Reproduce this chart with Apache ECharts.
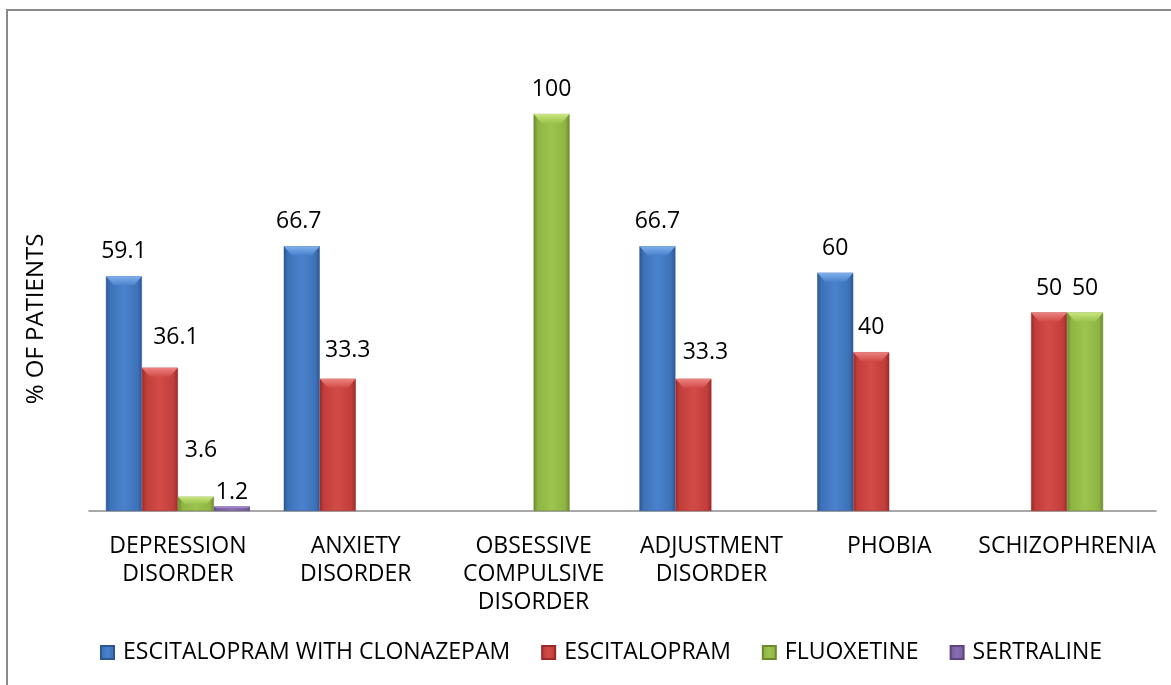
<!DOCTYPE html>
<html>
<head>
<meta charset="utf-8">
<script src="https://cdn.jsdelivr.net/npm/echarts@6/dist/echarts.min.js"></script>
<style>
  html, body { margin: 0; padding: 0; background: #fff; }
  #chart { width: 1171px; height: 685px; }
</style>
</head>
<body>
<div id="chart"></div>
<script>
// data
const categories = ['DEPRESSION\nDISORDER', 'ANXIETY\nDISORDER', 'OBSESSIVE\nCOMPULSIVE\nDISORDER', 'ADJUSTMENT\nDISORDER', 'PHOBIA', 'SCHIZOPHRENIA']
const escWithClonazepam = [59.1, 66.7, null, 66.7, 60, null]
const escitalopram = [36.1, 33.3, null, 33.3, 40, 50]
const fluoxetine = [3.6, null, 100, null, null, 50]
const sertraline = [1.2, null, null, null, null, null]

const FONT = 'Open Sans'
const BAR_W = 36

// hand-moved labels in the original: [dx, dy] per category index
const labelShift = {
  0: { 1: [-3, 0] },
  1: { 0: [16, -6], 1: [10, -4], 3: [12, -2] },
  2: { 0: [5, -22] },
  3: { 0: [0, 11] },
}

function fill(edge, mid, light) {
  return new echarts.graphic.LinearGradient(0, 0, 1, 0, [
    { offset: 0, color: edge },
    { offset: 0.12, color: mid },
    { offset: 0.5, color: light },
    { offset: 0.88, color: mid },
    { offset: 1, color: edge },
  ])
}

const palette = [
  { name: 'ESCITALOPRAM WITH CLONAZEPAM', data: escWithClonazepam, c: ['#2b5793', '#3d72b8', '#4a82cc', '#7fb0ec'] },
  { name: 'ESCITALOPRAM', data: escitalopram, c: ['#9a2a27', '#c23e3b', '#d24b47', '#ec8380'] },
  { name: 'FLUOXETINE', data: fluoxetine, c: ['#6c8a2c', '#8fb443', '#9cc44e', '#c8e67f'] },
  { name: 'SERTRALINE', data: sertraline, c: ['#5b4480', '#7a5fa0', '#8a6fb0', '#b39cd6'] },
]

const chart = echarts.init(document.getElementById('chart'))

// bevel cap drawn on top of each bar
function capSeries(p, si) {
  return {
    name: p.name + ' cap',
    type: 'custom',
    silent: true,
    z: 3,
    data: p.data.map((v, i) => (v === null ? null : [i, v])).filter((d) => d),
    renderItem: function (params, api) {
      const top = api.coord([api.value(0), api.value(1)])
      const base = api.coord([api.value(0), 0])
      const x = top[0] - 2 * BAR_W + si * BAR_W
      const h = Math.min(9, (base[1] - top[1]) / 2)
      const inset = Math.min(8, h)
      return {
        type: 'polygon',
        shape: {
          points: [
            [x, top[1]],
            [x + BAR_W, top[1]],
            [x + BAR_W - inset, top[1] + h],
            [x + inset, top[1] + h],
          ],
        },
        style: {
          fill: new echarts.graphic.LinearGradient(0, 0, 0, 1, [
            { offset: 0, color: p.c[3] },
            { offset: 1, color: p.c[2] },
          ]),
        },
      }
    },
  }
}

const option = {
  animation: false,
  backgroundColor: '#fff',
  textStyle: { fontFamily: FONT },
  grid: { left: 89, right: 15, top: 114, bottom: 174 },
  legend: {
    left: 95,
    top: 636,
    itemWidth: 13,
    itemHeight: 13,
    itemGap: 31,
    icon: 'rect',
    textStyle: { fontFamily: FONT, fontSize: 23, color: '#000', padding: [0, 0, 0, 4] },
    data: palette.map((p) => p.name),
  },
  graphic: [
    {
      type: 'rect',
      shape: { x: 7, y: 10, width: 1200, height: 700 },
      style: { fill: 'none', stroke: '#8a8a8a', lineWidth: 2 },
      silent: true,
    },
    {
      type: 'text',
      x: 36,
      y: 319,
      rotation: Math.PI / 2,
      style: {
        text: '% OF PATIENTS',
        fontFamily: FONT,
        fontSize: 24,
        fill: '#000',
        align: 'center',
        verticalAlign: 'middle',
      },
    },
  ],
  xAxis: {
    type: 'category',
    data: categories,
    axisLine: { show: true, lineStyle: { color: '#8c8c8c', width: 1.5 } },
    axisTick: { show: false },
    splitLine: { show: false },
    axisLabel: {
      interval: 0,
      color: '#000',
      fontFamily: FONT,
      fontSize: 23,
      lineHeight: 28,
      margin: 21,
    },
  },
  yAxis: {
    type: 'value',
    min: 0,
    max: 100,
    show: false,
  },
  series: palette
    .map((p, si) => ({
      name: p.name,
      type: 'bar',
      barWidth: BAR_W,
      barGap: '0%',
      color: p.c[1],
      itemStyle: {
        color: fill(p.c[0], p.c[1], p.c[2]),
        borderColor: p.c[0],
        borderWidth: 0.5,
      },
      label: {
        show: true,
        position: 'top',
        distance: 13,
        color: '#000',
        fontFamily: FONT,
        fontSize: 23,
      },
      data: p.data.map((v, i) => {
        const s = labelShift[si] && labelShift[si][i]
        if (v === null) return null
        return s ? { value: v, label: { offset: s } } : v
      }),
    }))
    .concat(palette.map(capSeries)),
}

chart.setOption(option)
</script>
</body>
</html>
